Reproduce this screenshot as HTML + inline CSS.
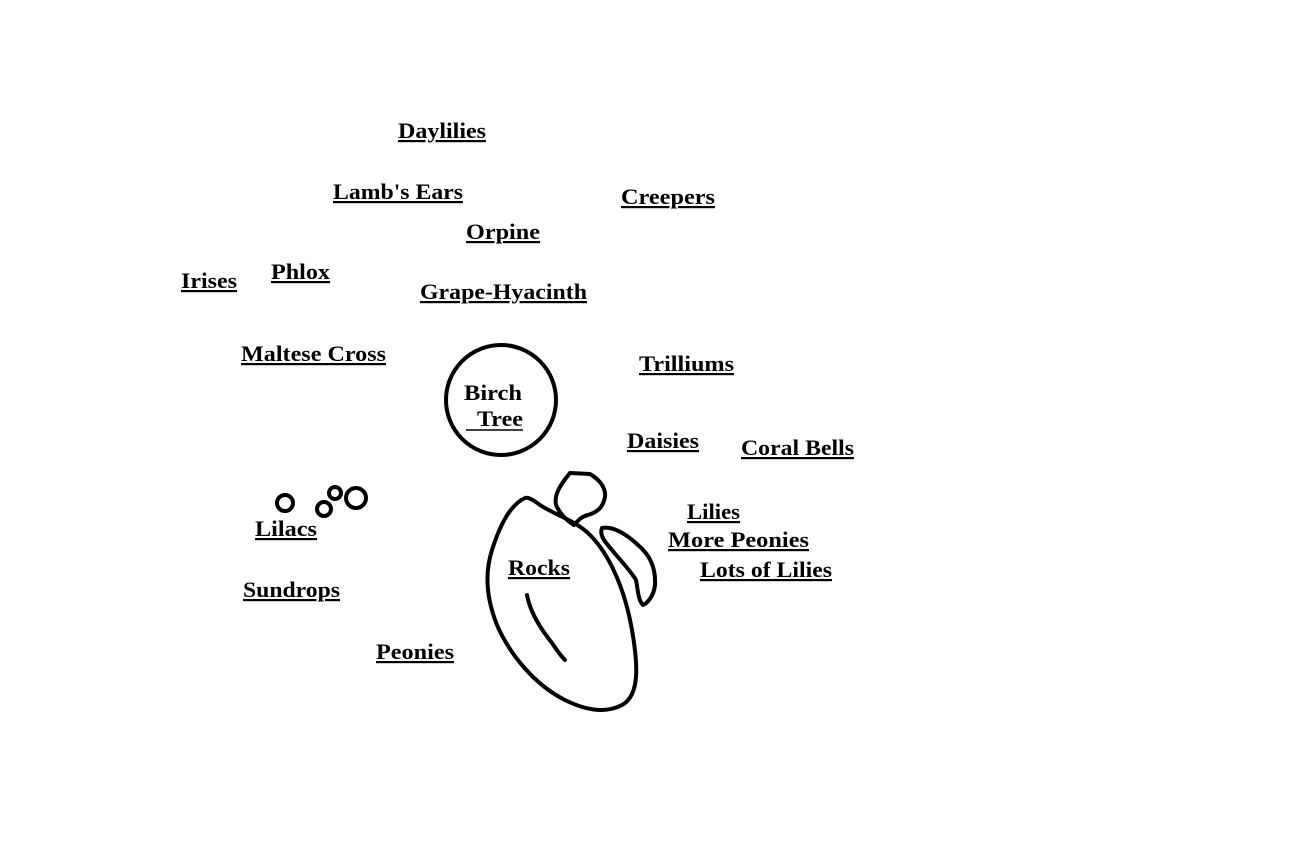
<!DOCTYPE html>
<html><head><meta charset="utf-8"><style>
html,body{margin:0;padding:0;background:#fff;}
svg{display:block}
text{font-family:"Liberation Serif",serif;font-weight:bold;font-size:22px;fill:#000;text-decoration:underline;}
</style></head><body>
<svg width="1314" height="842" viewBox="0 0 1314 842" xmlns="http://www.w3.org/2000/svg">
<rect width="1314" height="842" fill="#fff"/>
<g>
<text x="398" y="138" textLength="88" lengthAdjust="spacingAndGlyphs">Daylilies</text>
<text x="333" y="199" textLength="130" lengthAdjust="spacingAndGlyphs">Lamb's Ears</text>
<text x="621" y="204" textLength="94" lengthAdjust="spacingAndGlyphs">Creepers</text>
<text x="466" y="239" textLength="74" lengthAdjust="spacingAndGlyphs">Orpine</text>
<text x="181" y="288" textLength="56" lengthAdjust="spacingAndGlyphs">Irises</text>
<text x="271" y="279" textLength="59" lengthAdjust="spacingAndGlyphs">Phlox</text>
<text x="420" y="299" textLength="167" lengthAdjust="spacingAndGlyphs">Grape-Hyacinth</text>
<text x="241" y="361" textLength="145" lengthAdjust="spacingAndGlyphs">Maltese Cross</text>
<text x="639" y="371" textLength="95" lengthAdjust="spacingAndGlyphs">Trilliums</text>
<text x="464" y="400" textLength="58" lengthAdjust="spacingAndGlyphs" style="text-decoration:none">Birch</text>
<text x="477" y="426" textLength="46" lengthAdjust="spacingAndGlyphs" style="text-decoration:none">Tree</text>
<text x="627" y="448" textLength="72" lengthAdjust="spacingAndGlyphs">Daisies</text>
<text x="741" y="455" textLength="113" lengthAdjust="spacingAndGlyphs">Coral Bells</text>
<text x="687" y="519" textLength="53" lengthAdjust="spacingAndGlyphs">Lilies</text>
<text x="668" y="547" textLength="141" lengthAdjust="spacingAndGlyphs">More Peonies</text>
<text x="700" y="577" textLength="132" lengthAdjust="spacingAndGlyphs">Lots of Lilies</text>
<text x="508" y="575" textLength="62" lengthAdjust="spacingAndGlyphs">Rocks</text>
<text x="255" y="536" textLength="62" lengthAdjust="spacingAndGlyphs">Lilacs</text>
<text x="243" y="597" textLength="97" lengthAdjust="spacingAndGlyphs">Sundrops</text>
<text x="376" y="659" textLength="78" lengthAdjust="spacingAndGlyphs">Peonies</text>
</g>
<line x1="466" y1="430" x2="523" y2="430" stroke="#000" stroke-width="1.5"/>
<g fill="none" stroke="#000" stroke-width="4" stroke-linejoin="round" stroke-linecap="round">
<circle cx="501" cy="400" r="55"/>
<circle cx="285" cy="503" r="8"/>
<circle cx="324" cy="509" r="7"/>
<circle cx="335" cy="493" r="6"/>
<circle cx="356" cy="498" r="10"/>
<path d="M525,498 C510,505 500,525 492,550 C484,575 487,600 497,625 C510,655 535,685 565,700 C585,710 605,714 622,705 C640,695 638,665 632,630 C625,590 610,555 590,535 C575,520 555,515 540,505 C532,499 528,497 525,498 Z"/>
<path d="M527,595 C530,612 540,628 552,643 C558,652 563,658 565,660"/>
<path d="M570,473 L590,474 C600,480 606,488 605,497 C603,507 598,512 588,515 C580,517 577,522 574,525 C566,520 560,514 556,505 C554,495 560,486 566,478 Z"/>
<path d="M602,528 C612,526 625,533 638,545 C650,555 656,568 655,585 C654,595 648,603 643,605 C638,600 638,590 636,580 C630,570 620,560 612,550 C605,542 599,535 602,528 Z"/>
</g>
</svg>
</body></html>
